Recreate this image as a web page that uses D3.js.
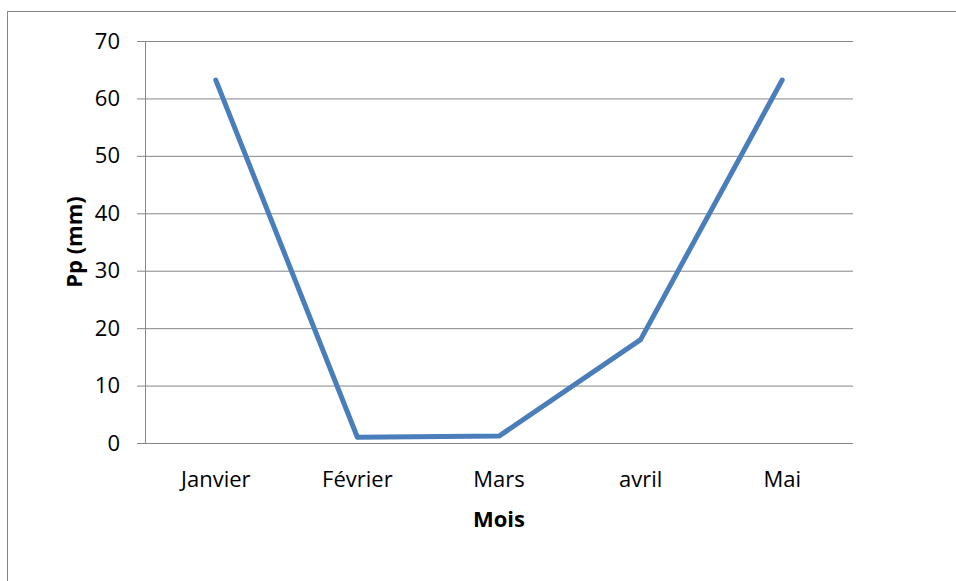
<!DOCTYPE html>
<meta charset="utf-8">
<style>
body { margin: 0; background: #fff; }
svg text { font-family: "Open Sans", Lato, sans-serif; fill: #000; }
.tick text { font-size: 22px; }
.axis-title { font-size: 22px; font-weight: bold; }
</style>
<body>
<script src="https://d3js.org/d3.v7.min.js"></script>
<script>
// data
var months = ["Janvier", "Février", "Mars", "avril", "Mai"];
var pp = [63.2, 1.0, 1.2, 18, 63.2];
var yTicks = [0, 10, 20, 30, 40, 50, 60, 70];

var W = 956, H = 581;
var margin = {top: 41, right: 103, bottom: 138, left: 145},
    width = W - margin.left - margin.right,
    height = H - margin.top - margin.bottom;

var svg = d3.select("body").append("svg")
    .attr("width", W)
    .attr("height", H);

// outer chart border (runs off the picture at right and bottom)
svg.append("rect")
    .attr("x", 7.5).attr("y", 11.5)
    .attr("width", 1000).attr("height", 1000)
    .attr("fill", "none")
    .attr("stroke", "#868686");

var g = svg.append("g")
    .attr("transform", "translate(" + margin.left + "," + margin.top + ")");

var x = d3.scaleBand().domain(months).range([0, width]);
var y = d3.scaleLinear().domain([0, 70]).range([height, 0]);

// horizontal grid + y axis
var yAxis = g.append("g")
    .call(d3.axisLeft(y).tickValues(yTicks).tickSize(8).tickPadding(17).tickFormat(d3.format("d")));
yAxis.select(".domain").attr("stroke", "#868686");
yAxis.selectAll(".tick line").attr("stroke", "#868686")
    .attr("x2", width).attr("x1", -8);

// x axis
var xAxis = g.append("g")
    .attr("transform", "translate(0," + height + ")")
    .call(d3.axisBottom(x).tickSize(0).tickPadding(28));
xAxis.select(".domain").attr("stroke", "#868686").attr("d", "M-8,0.5H" + width);

// line
var line = d3.line()
    .x(function(d, i) { return x(months[i]) + x.bandwidth() / 2; })
    .y(function(d) { return y(d); });

g.append("path")
    .datum(pp)
    .attr("fill", "none")
    .attr("stroke", "#4a7ebb")
    .attr("stroke-width", 5)
    .attr("stroke-linecap", "round")
    .attr("stroke-linejoin", "round")
    .attr("d", line);

// axis titles
svg.append("text")
    .attr("class", "axis-title")
    .attr("transform", "translate(74," + (margin.top + height / 2) + ") rotate(-90)")
    .attr("text-anchor", "middle")
    .attr("dy", "0.35em")
    .text("Pp (mm)");

svg.append("text")
    .attr("class", "axis-title")
    .attr("x", margin.left + width / 2)
    .attr("y", 527)
    .attr("text-anchor", "middle")
    .text("Mois");
</script>
</body>
